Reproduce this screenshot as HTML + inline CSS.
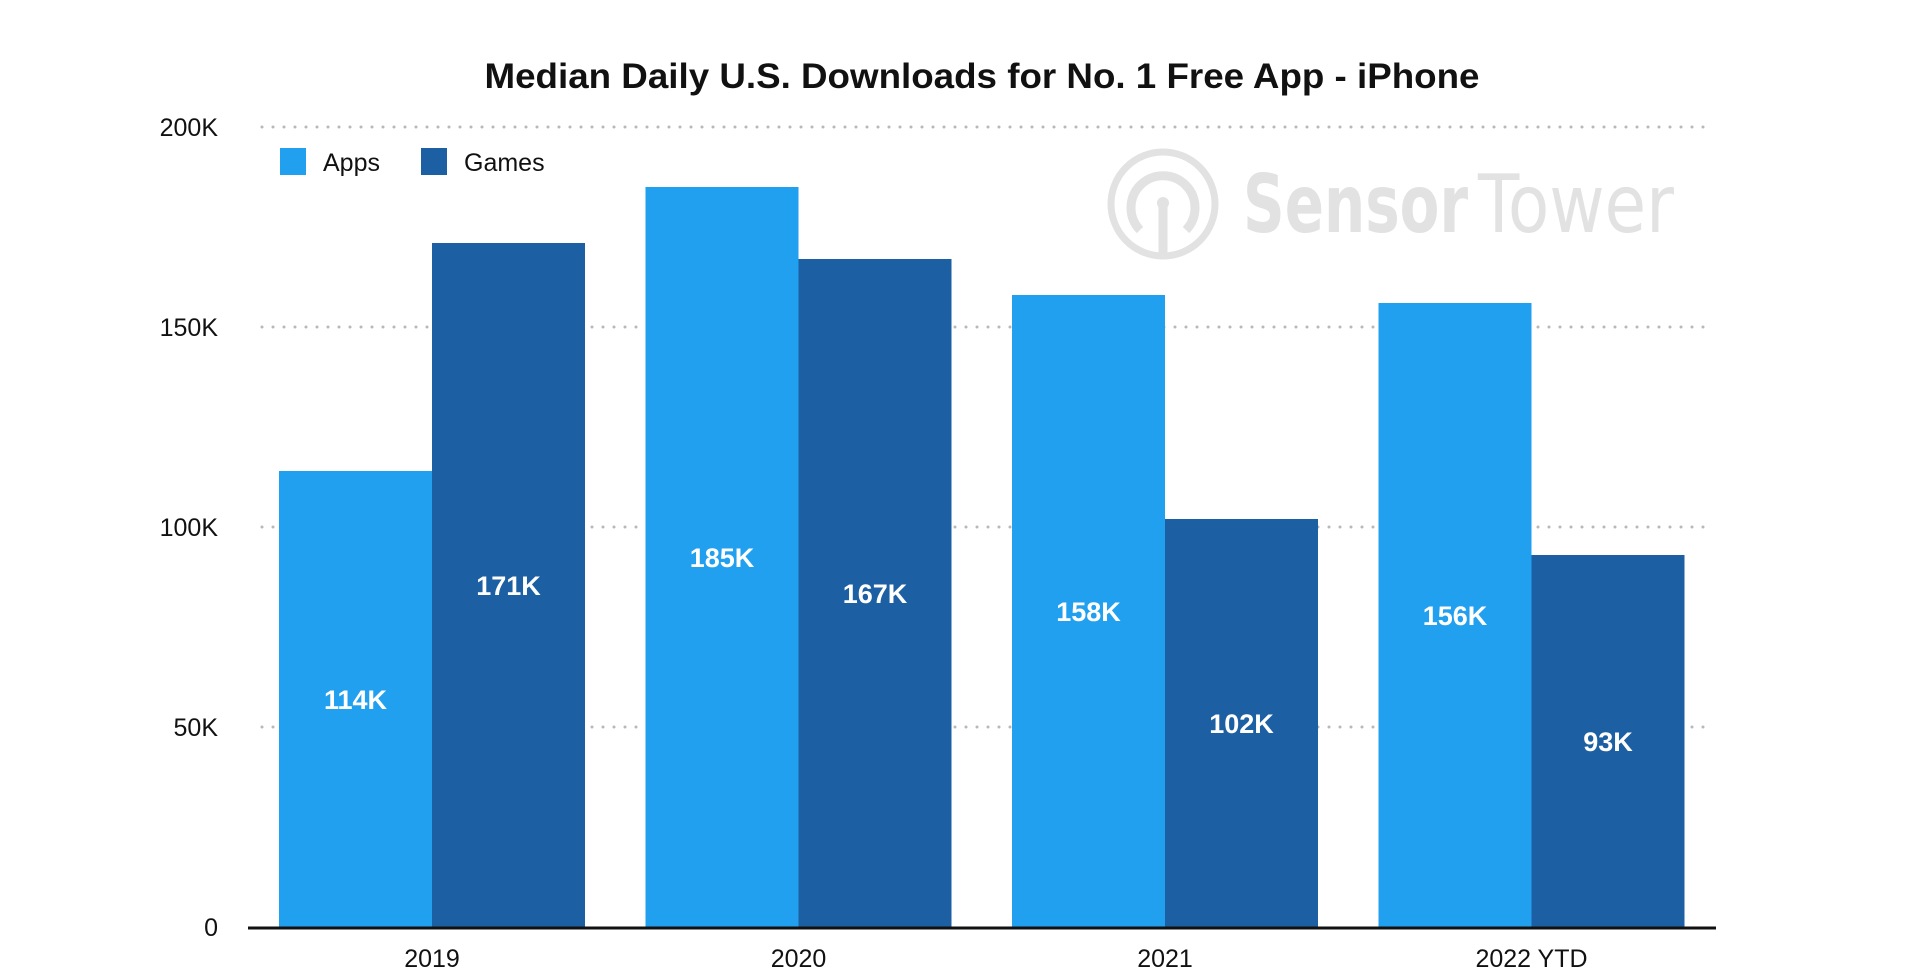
<!DOCTYPE html>
<html><head><meta charset="utf-8"><style>
html,body{margin:0;padding:0;background:#fff;}
svg{display:block;}
</style></head><body>
<svg id="chart" width="1918" height="976" viewBox="0 0 1918 976" xmlns="http://www.w3.org/2000/svg" font-family="'Liberation Sans', Arial, sans-serif">
<rect x="0" y="0" width="1918" height="976" fill="#fff"/>
<text x="982" y="88" text-anchor="middle" font-size="35" font-weight="bold" fill="#111" textLength="995" lengthAdjust="spacingAndGlyphs">Median Daily U.S. Downloads for No. 1 Free App - iPhone</text>
<g fill="none" stroke="#e2e2e2">
  <ellipse cx="1163" cy="204" rx="52" ry="52" stroke-width="7"/>
  <path d="M1140 230 A32 32 0 1 1 1186 230" stroke-width="9"/>
  <line x1="1163" y1="205" x2="1163" y2="255" stroke-width="9"/>
  <circle cx="1163" cy="203" r="6" fill="#e2e2e2" stroke="none"/>
  <text x="1243" y="232" font-size="80" fill="#e2e2e2" stroke="none" font-family="'DejaVu Sans', sans-serif"><tspan font-weight="bold" textLength="225" lengthAdjust="spacingAndGlyphs">Sensor</tspan></text>
  <text x="1478" y="232" font-size="80" fill="#e2e2e2" stroke="none" textLength="196" lengthAdjust="spacingAndGlyphs" font-family="'DejaVu Sans', sans-serif">Tower</text>
</g>
<g id="grid"></g>
<g id="yticks"></g>
<g id="bars"></g>
<line x1="248" y1="928" x2="1716" y2="928" stroke="#111" stroke-width="3"/>
<g id="xticks"></g>
<g>
  <rect x="280" y="148" width="26" height="27" fill="#22a0f0"/>
  <text x="323" y="171" font-size="25" fill="#111">Apps</text>
  <rect x="421" y="148" width="26" height="27" fill="#1c5fa3"/>
  <text x="464" y="171" font-size="25" fill="#111">Games</text>
</g>
</svg>
<script>
const categories = ["2019", "2020", "2021", "2022 YTD"];
const appsValues = [114, 185, 158, 156];
const gamesValues = [171, 167, 102, 93];
const valueLabelsApps = ["114K", "185K", "158K", "156K"];
const valueLabelsGames = ["171K", "167K", "102K", "93K"];
const yTicks = [0, 50, 100, 150, 200];
const yTickLabels = ["0", "50K", "100K", "150K", "200K"];

const NS = "http://www.w3.org/2000/svg";
const y0 = 927, pxPer = 4;
function yScale(v){ return y0 - v * pxPer; }
const groupStart = 279, groupStep = 366.5, barW = 153;
function xGroup(i){ return groupStart + i * groupStep; }
function mk(tag, attrs){ const e = document.createElementNS(NS, tag); for (const k in attrs) e.setAttribute(k, attrs[k]); return e; }

const grid = document.getElementById('grid');
const yt = document.getElementById('yticks');
yTicks.forEach((t, i) => {
  const y = yScale(t);
  if (t > 0) {
    const l = mk('line', {x1: 262, y1: y, x2: 1708, y2: y, stroke: '#b8b8b8', 'stroke-width': 3, 'stroke-dasharray': '0 11', 'stroke-linecap': 'round'});
    
    
    grid.appendChild(l);
  }
  const tx = mk('text', {x: 218, y: y + 9, 'text-anchor': 'end', 'font-size': 25, fill: '#111'});
  tx.textContent = yTickLabels[i];
  
  
  yt.appendChild(tx);
});

const bars = document.getElementById('bars');
const xt = document.getElementById('xticks');
categories.forEach((c, i) => {
  const gx = xGroup(i);
  [[appsValues, valueLabelsApps, '#22a0f0', 0, 'apps'], [gamesValues, valueLabelsGames, '#1c5fa3', 1, 'games']].forEach(s => {
    const v = s[0][i];
    const x = gx + s[3] * barW;
    const r = mk('rect', {x: x, y: yScale(v), width: barW, height: y0 - yScale(v), fill: s[2]});
    
    
    bars.appendChild(r);
    const lb = mk('text', {x: x + barW / 2, y: (yScale(v) + y0) / 2 + 10, 'text-anchor': 'middle', 'font-size': 27, 'font-weight': 'bold', fill: '#fff'});
    lb.textContent = s[1][i];
    
    
    bars.appendChild(lb);
  });
  const t = mk('text', {x: gx + barW, y: 967, 'text-anchor': 'middle', 'font-size': 25, fill: '#111'});
  t.textContent = c;
  
  
  xt.appendChild(t);
});
</script>
</body></html>
